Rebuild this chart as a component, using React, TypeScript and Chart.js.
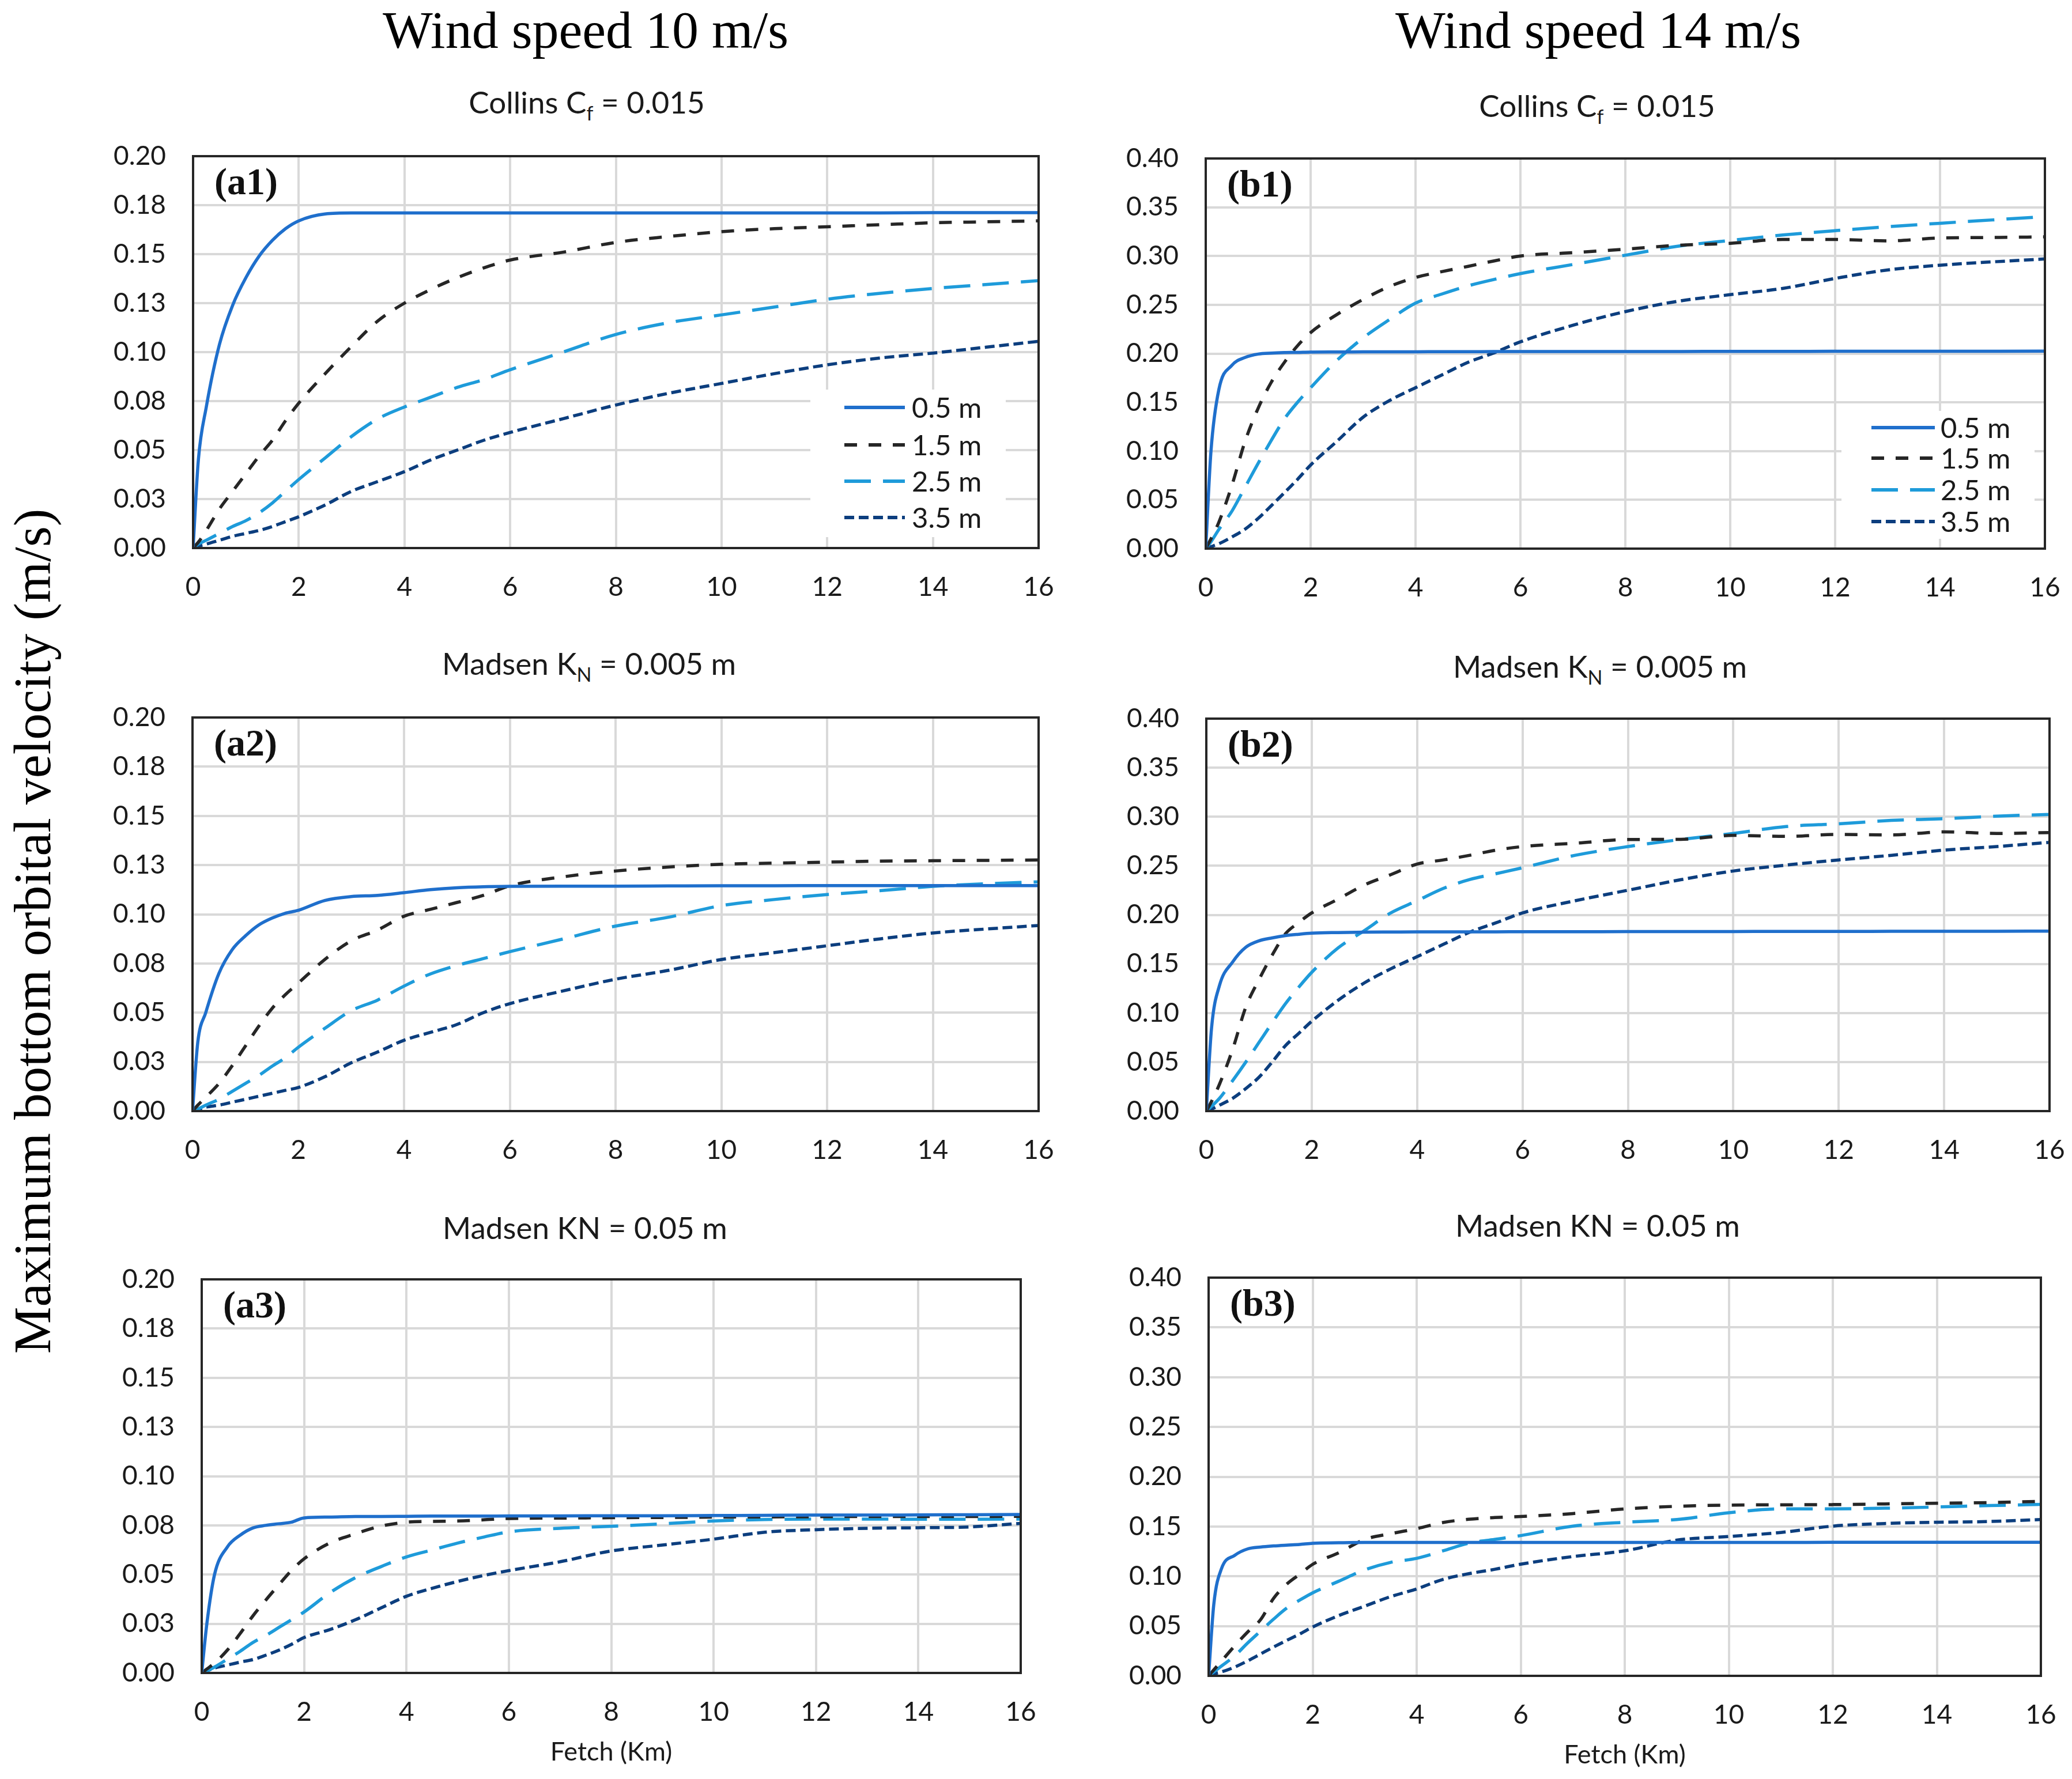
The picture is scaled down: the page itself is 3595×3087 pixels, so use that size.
import React, { useEffect, useRef } from "react";
import { Chart, registerables } from "chart.js";

Chart.register(...registerables);
Chart.defaults.font.family = "Lato";

// ---------- DATA ----------
const FETCH_KM = [0, 0.1, 0.25, 0.5, 0.75, 1, 1.25, 1.5, 1.75, 2, 2.5, 3, 3.5, 4, 4.5, 5, 5.5, 6, 7, 8, 9, 10, 11, 12, 13, 14, 15, 16];
const X_TICK_LABELS = ["0", "2", "4", "6", "8", "10", "12", "14", "16"];
const Y_TICKS_10 = ["0.00", "0.03", "0.05", "0.08", "0.10", "0.13", "0.15", "0.18", "0.20"];
const Y_TICKS_14 = ["0.00", "0.05", "0.10", "0.15", "0.20", "0.25", "0.30", "0.35", "0.40"];
const DEPTH_LABELS = ["0.5 m", "1.5 m", "2.5 m", "3.5 m"];

// Wind speed 10 m/s, Collins Cf = 0.015
const A1_05 = [0, 0.045, 0.072, 0.104, 0.124, 0.138, 0.149, 0.157, 0.163, 0.167, 0.1705, 0.171, 0.171, 0.171, 0.171, 0.171, 0.171, 0.171, 0.171, 0.171, 0.171, 0.171, 0.171, 0.171, 0.171, 0.1712, 0.1712, 0.1712];
const A1_15 = [0, 0.003, 0.009, 0.020, 0.029, 0.038, 0.047, 0.055, 0.065, 0.074, 0.089, 0.103, 0.116, 0.125, 0.132, 0.138, 0.143, 0.147, 0.151, 0.156, 0.159, 0.1615, 0.163, 0.164, 0.165, 0.166, 0.1665, 0.167];
const A1_25 = [0, 0.002, 0.004, 0.0075, 0.011, 0.014, 0.018, 0.023, 0.029, 0.035, 0.046, 0.057, 0.066, 0.072, 0.077, 0.082, 0.086, 0.091, 0.100, 0.109, 0.115, 0.119, 0.123, 0.127, 0.130, 0.1325, 0.1345, 0.1365];
const A1_35 = [0, 0.001, 0.002, 0.004, 0.006, 0.0075, 0.009, 0.011, 0.0135, 0.016, 0.022, 0.029, 0.034, 0.039, 0.045, 0.050, 0.055, 0.059, 0.066, 0.073, 0.079, 0.084, 0.089, 0.0935, 0.097, 0.0995, 0.1025, 0.1055];

// Wind speed 10 m/s, Madsen KN = 0.005 m
const A2_05 = [0, 0.035, 0.050, 0.070, 0.082, 0.089, 0.0945, 0.098, 0.1005, 0.102, 0.107, 0.109, 0.1096, 0.111, 0.1125, 0.1135, 0.114, 0.1142, 0.1143, 0.1143, 0.1144, 0.1145, 0.1145, 0.1146, 0.1146, 0.1146, 0.1146, 0.1146];
const A2_15 = [0, 0.003, 0.007, 0.014, 0.023, 0.033, 0.043, 0.052, 0.059, 0.065, 0.077, 0.0865, 0.092, 0.099, 0.1025, 0.106, 0.1096, 0.1145, 0.119, 0.122, 0.124, 0.1254, 0.126, 0.1265, 0.127, 0.1272, 0.1274, 0.1276];
const A2_25 = [0, 0.001, 0.003, 0.006, 0.010, 0.014, 0.018, 0.0227, 0.027, 0.0324, 0.042, 0.051, 0.0564, 0.0635, 0.0697, 0.074, 0.0775, 0.081, 0.0874, 0.094, 0.0985, 0.1044, 0.1075, 0.110, 0.112, 0.1142, 0.1155, 0.1165];
const A2_35 = [0, 0.0008, 0.002, 0.003, 0.0045, 0.006, 0.0075, 0.009, 0.0105, 0.012, 0.0174, 0.0245, 0.030, 0.036, 0.040, 0.044, 0.050, 0.0546, 0.061, 0.067, 0.0715, 0.077, 0.0805, 0.084, 0.0875, 0.0905, 0.0925, 0.0943];

// Wind speed 10 m/s, Madsen KN = 0.05 m
const A3_05 = [0, 0.025, 0.050, 0.064, 0.070, 0.0737, 0.075, 0.0758, 0.0766, 0.0788, 0.0792, 0.0795, 0.0795, 0.0796, 0.0797, 0.0797, 0.0797, 0.0798, 0.0798, 0.0799, 0.0799, 0.080, 0.0801, 0.0802, 0.0802, 0.0803, 0.0804, 0.0805];
const A3_15 = [0, 0.002, 0.005, 0.0116, 0.020, 0.029, 0.037, 0.0446, 0.052, 0.058, 0.066, 0.0707, 0.0746, 0.0766, 0.077, 0.0772, 0.0778, 0.0785, 0.0787, 0.0789, 0.079, 0.0792, 0.0793, 0.0794, 0.0795, 0.0795, 0.0795, 0.0796];
const A3_25 = [0, 0.001, 0.003, 0.007, 0.011, 0.0155, 0.019, 0.023, 0.027, 0.031, 0.0407, 0.0484, 0.054, 0.059, 0.0625, 0.066, 0.069, 0.0717, 0.0735, 0.0745, 0.0758, 0.0772, 0.078, 0.0782, 0.0782, 0.0781, 0.0781, 0.0782];
const A3_35 = [0, 0.001, 0.0025, 0.004, 0.0055, 0.0068, 0.009, 0.0115, 0.0145, 0.018, 0.022, 0.027, 0.033, 0.039, 0.043, 0.0465, 0.0495, 0.052, 0.0565, 0.062, 0.065, 0.068, 0.0715, 0.0728, 0.0735, 0.0738, 0.0742, 0.076];

// Wind speed 14 m/s, Collins Cf = 0.015
const B1_05 = [0, 0.100, 0.163, 0.188, 0.196, 0.1995, 0.2005, 0.201, 0.2012, 0.2015, 0.2016, 0.2017, 0.2018, 0.2018, 0.2019, 0.2019, 0.202, 0.202, 0.202, 0.2021, 0.2021, 0.2022, 0.2022, 0.2023, 0.2023, 0.2024, 0.2024, 0.2025];
const B1_15 = [0, 0.010, 0.027, 0.065, 0.110, 0.144, 0.1706, 0.191, 0.208, 0.2215, 0.240, 0.2555, 0.2687, 0.278, 0.284, 0.2894, 0.295, 0.300, 0.3034, 0.307, 0.311, 0.313, 0.317, 0.317, 0.3155, 0.3185, 0.319, 0.3196];
const B1_25 = [0, 0.007, 0.0196, 0.0385, 0.063, 0.0875, 0.111, 0.133, 0.150, 0.165, 0.193, 0.216, 0.2347, 0.2517, 0.261, 0.2694, 0.276, 0.282, 0.2913, 0.3008, 0.310, 0.316, 0.3215, 0.326, 0.330, 0.3336, 0.337, 0.3404];
const B1_35 = [0, 0.002, 0.005, 0.012, 0.020, 0.031, 0.044, 0.0574, 0.071, 0.0857, 0.110, 0.1347, 0.1517, 0.165, 0.178, 0.191, 0.2008, 0.212, 0.229, 0.243, 0.2536, 0.2604, 0.2668, 0.277, 0.2857, 0.2906, 0.294, 0.297];

// Wind speed 14 m/s, Madsen KN = 0.005 m
const B2_05 = [0, 0.085, 0.128, 0.152, 0.167, 0.1735, 0.1765, 0.1788, 0.1802, 0.1813, 0.182, 0.1824, 0.1825, 0.1826, 0.1826, 0.1827, 0.1827, 0.1828, 0.1828, 0.1829, 0.1829, 0.183, 0.1831, 0.1831, 0.1832, 0.1833, 0.1833, 0.1834];
const B2_15 = [0, 0.010, 0.0274, 0.063, 0.106, 0.134, 0.159, 0.1806, 0.192, 0.202, 0.216, 0.2305, 0.241, 0.2518, 0.256, 0.2607, 0.266, 0.2696, 0.273, 0.2768, 0.277, 0.281, 0.280, 0.282, 0.2815, 0.2846, 0.283, 0.2839];
const B2_25 = [0, 0.005, 0.013, 0.031, 0.050, 0.070, 0.090, 0.1093, 0.126, 0.1414, 0.1663, 0.184, 0.202, 0.2144, 0.227, 0.236, 0.242, 0.248, 0.2607, 0.2696, 0.2768, 0.283, 0.290, 0.2928, 0.2963, 0.298, 0.3006, 0.3024];
const B2_35 = [0, 0.002, 0.006, 0.013, 0.023, 0.0345, 0.050, 0.0666, 0.079, 0.0915, 0.1129, 0.1307, 0.145, 0.1574, 0.170, 0.1824, 0.192, 0.202, 0.2144, 0.2251, 0.2358, 0.2447, 0.2507, 0.256, 0.2607, 0.266, 0.2696, 0.2739];

// Wind speed 14 m/s, Madsen KN = 0.05 m
const B3_05 = [0, 0.072, 0.108, 0.121, 0.1275, 0.1294, 0.1305, 0.1313, 0.132, 0.1332, 0.1337, 0.134, 0.134, 0.134, 0.134, 0.134, 0.134, 0.134, 0.134, 0.134, 0.134, 0.134, 0.134, 0.1341, 0.1341, 0.1341, 0.1342, 0.1342];
const B3_15 = [0, 0.006, 0.015, 0.030, 0.044, 0.0565, 0.078, 0.092, 0.102, 0.112, 0.1236, 0.137, 0.1428, 0.1478, 0.154, 0.1573, 0.159, 0.160, 0.163, 0.1677, 0.1703, 0.1715, 0.1718, 0.172, 0.1727, 0.1734, 0.174, 0.1753];
const B3_25 = [0, 0.004, 0.010, 0.020, 0.033, 0.045, 0.057, 0.068, 0.076, 0.0834, 0.095, 0.1064, 0.114, 0.118, 0.1255, 0.1332, 0.137, 0.1409, 0.1504, 0.1543, 0.157, 0.1638, 0.1677, 0.1677, 0.1684, 0.1696, 0.171, 0.1722];
const B3_35 = [0, 0.002, 0.004, 0.0088, 0.015, 0.022, 0.029, 0.0356, 0.042, 0.049, 0.0605, 0.070, 0.0796, 0.0873, 0.0968, 0.1026, 0.107, 0.1122, 0.1198, 0.1256, 0.1363, 0.140, 0.144, 0.1504, 0.153, 0.1543, 0.155, 0.157];

// ---------- STYLES ----------
const SERIES_STYLE = [
  { color: "#1F6FCC", dash: [] as number[] },
  { color: "#262626", dash: [22, 20] },
  { color: "#1E9BDA", dash: [46, 21] },
  { color: "#0C3E7E", dash: [17, 8] },
];

type LegendCfg = {
  box: [number, number, number, number]; // offsets from right / bottom
  line: [number, number];
  textX: number;
  rows: number[];
};

type PanelCfg = {
  id: string;
  series: number[][];
  yMax: number;
  yStep: number;
  yLabels: string[];
  rect: { L: number; T: number; R: number; B: number };
  legend?: LegendCfg;
  xTitle?: string;
};

const PANELS: PanelCfg[] = [
  { id: "(a1)", series: [A1_05, A1_15, A1_25, A1_35], yMax: 0.2, yStep: 0.025, yLabels: Y_TICKS_10, rect: { L: 335, T: 271, R: 1802, B: 951 },
    legend: { box: [396, 57, 275, 19], line: [337, 232], textX: 220, rows: [244, 179, 116, 53] } },
  { id: "(a2)", series: [A2_05, A2_15, A2_25, A2_35], yMax: 0.2, yStep: 0.025, yLabels: Y_TICKS_10, rect: { L: 334, T: 1245, R: 1802, B: 1928 } },
  { id: "(a3)", series: [A3_05, A3_15, A3_25, A3_35], yMax: 0.2, yStep: 0.025, yLabels: Y_TICKS_10, rect: { L: 350, T: 2220, R: 1771, B: 2903 }, xTitle: "Fetch (Km)" },
  { id: "(b1)", series: [B1_05, B1_15, B1_25, B1_35], yMax: 0.4, yStep: 0.05, yLabels: Y_TICKS_14, rect: { L: 2092, T: 275, R: 3548, B: 952 },
    legend: { box: [353, 18, 239, 17], line: [301, 191], textX: 181, rows: [210, 157, 102, 47] } },
  { id: "(b2)", series: [B2_05, B2_15, B2_25, B2_35], yMax: 0.4, yStep: 0.05, yLabels: Y_TICKS_14, rect: { L: 2093, T: 1247, R: 3556, B: 1928 } },
  { id: "(b3)", series: [B3_05, B3_15, B3_25, B3_35], yMax: 0.4, yStep: 0.05, yLabels: Y_TICKS_14, rect: { L: 2097, T: 2217, R: 3541, B: 2908 }, xTitle: "Fetch (Km)" },
];

const Y_AXIS_W = 220;
const PAD_TOP = 90;
const PAD_RIGHT = 80;
const X_AXIS_H = 166;
const TEXT_COLOR = "#1a1a1a";

function Panel({ cfg }: { cfg: PanelCfg }) {
  const ref = useRef<HTMLCanvasElement>(null);
  const { L, T, R, B } = cfg.rect;
  const width = Y_AXIS_W + (R - L) + PAD_RIGHT;
  const height = PAD_TOP + (B - T) + X_AXIS_H;

  useEffect(() => {
    if (!ref.current) return;
    const decor = {
      id: "decor",
      afterDatasetsDraw(chart: any) {
        const { ctx, chartArea: a } = chart;
        ctx.save();
        // legend
        if (cfg.legend) {
          const lg = cfg.legend;
          ctx.fillStyle = "#ffffff";
          ctx.fillRect(a.right - lg.box[0], a.bottom - lg.box[2], lg.box[0] - lg.box[1], lg.box[2] - lg.box[3]);
          chart.data.datasets.forEach((ds: any, i: number) => {
            const y = a.bottom - lg.rows[i];
            ctx.beginPath();
            ctx.strokeStyle = ds.borderColor;
            ctx.lineWidth = 6;
            ctx.setLineDash(ds.borderDash || []);
            ctx.moveTo(a.right - lg.line[0], y);
            ctx.lineTo(a.right - lg.line[1], y);
            ctx.stroke();
            ctx.setLineDash([]);
            ctx.fillStyle = TEXT_COLOR;
            ctx.font = "49px Lato";
            ctx.textAlign = "left";
            ctx.textBaseline = "middle";
            ctx.fillText(ds.label, a.right - lg.textX, y + 2);
          });
        }
        // frame
        ctx.setLineDash([]);
        ctx.strokeStyle = "#262626";
        ctx.lineWidth = 4;
        ctx.strokeRect(a.left, a.top, a.right - a.left, a.bottom - a.top);
        // panel id
        ctx.fillStyle = "#111";
        ctx.font = 'bold 66px "Liberation Serif"';
        ctx.textAlign = "left";
        ctx.textBaseline = "alphabetic";
        ctx.fillText(cfg.id, a.left + 37, a.top + 66);
        ctx.restore();
      },
    };

    const chart = new Chart(ref.current, {
      type: "line",
      data: {
        datasets: cfg.series.map((vals, i) => ({
          label: DEPTH_LABELS[i],
          data: FETCH_KM.map((x, j) => ({ x, y: vals[j] })),
          borderColor: SERIES_STYLE[i].color,
          backgroundColor: SERIES_STYLE[i].color,
          borderDash: SERIES_STYLE[i].dash,
          borderWidth: 5.5,
          pointRadius: 0,
          fill: false,
          cubicInterpolationMode: "monotone",
        })),
      },
      options: {
        animation: false,
        responsive: false,
        devicePixelRatio: 1,
        layout: { padding: { left: 0, top: PAD_TOP, right: PAD_RIGHT, bottom: 0 } },
        plugins: { legend: { display: false }, tooltip: { enabled: false }, title: { display: false } },
        scales: {
          x: {
            type: "linear",
            min: 0,
            max: 16,
            ticks: {
              stepSize: 2,
              autoSkip: false,
              maxRotation: 0,
              padding: 41,
              color: TEXT_COLOR,
              font: { size: 46, family: "Lato" },
              callback: (v: any) => X_TICK_LABELS[Math.round(Number(v) / 2)],
            },
            grid: { color: "#D9D9D9", lineWidth: 4, drawTicks: false },
            border: { display: false },
            title: cfg.xTitle
              ? { display: true, text: cfg.xTitle, color: TEXT_COLOR, font: { size: 45, family: "Lato" }, padding: { top: 0, bottom: 2 } }
              : { display: false },
            afterFit: (s: any) => { s.height = X_AXIS_H; },
          },
          y: {
            type: "linear",
            min: 0,
            max: cfg.yMax,
            ticks: {
              stepSize: cfg.yStep,
              autoSkip: false,
              padding: 47,
              color: TEXT_COLOR,
              font: { size: 46, family: "Lato" },
              callback: (v: any) => cfg.yLabels[Math.round(Number(v) / cfg.yStep)],
            },
            grid: { color: "#D9D9D9", lineWidth: 4, drawTicks: false },
            border: { display: false },
            afterFit: (s: any) => { s.width = Y_AXIS_W; },
          },
        },
      },
      plugins: [decor],
    } as any);
    return () => chart.destroy();
  }, []);

  return (
    <canvas
      ref={ref}
      width={width}
      height={height}
      style={{ position: "absolute", left: L - Y_AXIS_W, top: T - PAD_TOP, width, height }}
    />
  );
}

const sub: React.CSSProperties = { fontSize: 34, position: "relative", top: 12 };

function Subtitle({ cx, baseline, children }: { cx: number; baseline: number; children: React.ReactNode }) {
  return (
    <div
      style={{
        position: "absolute",
        left: cx - 600,
        width: 1200,
        top: baseline - 47,
        height: 53,
        lineHeight: "53px",
        fontFamily: "Lato",
        fontSize: 53,
        color: TEXT_COLOR,
        textAlign: "center",
        whiteSpace: "nowrap",
      }}
    >
      {children}
    </div>
  );
}

function Header({ cx, text }: { cx: number; text: string }) {
  return (
    <div
      style={{
        position: "absolute",
        left: cx - 800,
        width: 1600,
        top: 6,
        height: 92,
        lineHeight: "92px",
        fontFamily: '"Liberation Serif"',
        fontSize: 92,
        color: "#000",
        textAlign: "center",
        whiteSpace: "nowrap",
      }}
    >
      {text}
    </div>
  );
}

export default function App() {
  return (
    <div style={{ position: "absolute", left: 0, top: 0, width: 3595, height: 3087, overflow: "hidden", background: "#fff" }}>
      <Header cx={1016} text="Wind speed 10 m/s" />
      <Header cx={2773} text="Wind speed 14 m/s" />
      <div
        style={{
          position: "absolute",
          left: 56 - 1000,
          top: 1616 - 46,
          width: 2000,
          height: 92,
          lineHeight: "92px",
          fontFamily: '"Liberation Serif"',
          fontSize: 92,
          color: "#000",
          textAlign: "center",
          whiteSpace: "nowrap",
          transform: "rotate(-90deg)",
          transformOrigin: "50% 50%",
        }}
      >
        Maximum bottom orbital velocity (m/s)
      </div>
      <Subtitle cx={1018} baseline={197}>Collins C<span style={sub}>f</span> = 0.015</Subtitle>
      <Subtitle cx={2771} baseline={203}>Collins C<span style={sub}>f</span> = 0.015</Subtitle>
      <Subtitle cx={1022} baseline={1171}>Madsen K<span style={sub}>N</span> = 0.005 m</Subtitle>
      <Subtitle cx={2776} baseline={1176}>Madsen K<span style={sub}>N</span> = 0.005 m</Subtitle>
      <Subtitle cx={1015} baseline={2150}>Madsen KN = 0.05 m</Subtitle>
      <Subtitle cx={2772} baseline={2146}>Madsen KN = 0.05 m</Subtitle>
      {PANELS.map((p) => (
        <Panel key={p.id} cfg={p} />
      ))}
    </div>
  );
}
